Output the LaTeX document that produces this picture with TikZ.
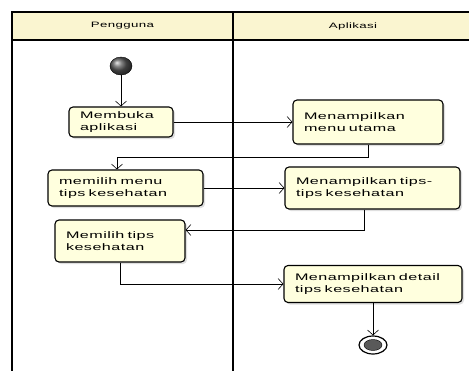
\documentclass[tikz,border=0pt]{standalone}
\usepackage{fontspec}
\setmainfont{Liberation Sans}[FakeStretch=1.7,LetterSpace=5]
\usetikzlibrary{positioning,arrows.meta,shapes.geometric,shadows}
\definecolor{lanehead}{RGB}{250,245,208}
\definecolor{actfill}{RGB}{255,255,222}
\tikzset{%
lane/.style={line width=1.6pt},
lanetitle/.style={font=\fontsize{7.8}{10}\selectfont,inner sep=1pt},
activity/.style={draw,line width=1.1pt,rounded corners=4pt,fill=actfill,align=left,inner xsep=11pt,inner ysep=2pt,font=\fontsize{9.5}{11.5}\selectfont,drop shadow={shadow xshift=2pt,shadow yshift=-2pt,opacity=0.25}},
flow/.style={-{Straight Barb[length=5pt,width=11pt]},line width=0.6pt},
startnode/.style={ellipse,draw,shading=ball,ball color=gray!70!black,minimum width=22pt,minimum height=18pt,inner sep=0},
endnode/.style={ellipse,draw,line width=1.2pt,fill=white,minimum width=28pt,minimum height=18pt,inner sep=0},
endcore/.style={ellipse,draw,fill=gray!70!black,minimum width=18pt,minimum height=11pt,inner sep=0}
}
\begin{document}
\begin{tikzpicture}[x=1pt,y=-1pt]
    \useasboundingbox (0,0) rectangle (469,370);

    % swimlanes
    \fill[lanehead] (12,12) rectangle (475,40);
    \draw[lane] (475,12) -- (12,12) -- (12,375);
    \draw[lane] (233,12) -- (233,375);
    \draw[line width=1.2pt] (12,40) -- (475,40);
    \node[lanetitle] (pengguna) at (122.5,26) {Pengguna};
    \node[lanetitle] (aplikasi) at (353,26) {Aplikasi};

    % activities
    \node[startnode] (start) at (121,66) {};
    \node[activity,text width=82pt,minimum height=30pt] (buka) at (121,122) {Membuka\\aplikasi};
    \node[activity,text width=128pt,minimum height=44pt] (menu) at (368,122) {Menampilkan\\menu utama};
    \node[activity,text width=133pt,minimum height=36pt] (pilihmenu) at (125.5,188) {memilih menu\\tips kesehatan};
    \node[activity,text width=153pt,minimum height=42pt] (tips) at (372.5,188) {Menampilkan tips-\\tips kesehatan};
    \node[activity,text width=108pt,minimum height=42pt] (pilihtips) at (120,241) {Memilih tips\\kesehatan};
    \node[activity,text width=156pt,minimum height=37pt] (detail) at (373,284) {Menampilkan detail\\tips kesehatan};
    \node[endnode] (end) at (373,345) {};
    \node[endcore] (endin) at (end) {};

    \coordinate (m1) at (117,157);
    \coordinate (t1) at (364,230);

    % flows
    \draw[flow] (start) -- (buka);
    \draw[flow] (buka.east) -- (buka.east -| menu.west);
    \draw[flow] (menu.south) |- (m1) -- (m1 |- pilihmenu.north);
    \draw[flow] (pilihmenu.east) -- (pilihmenu.east -| tips.west);
    \draw[flow] (t1 |- tips.south) -- (t1) -- (t1 -| pilihtips.east);
    \draw[flow] (pilihtips.south) |- (detail.west);
    \draw[flow] (detail.south) -- (end.north);

\end{tikzpicture}
\end{document}
